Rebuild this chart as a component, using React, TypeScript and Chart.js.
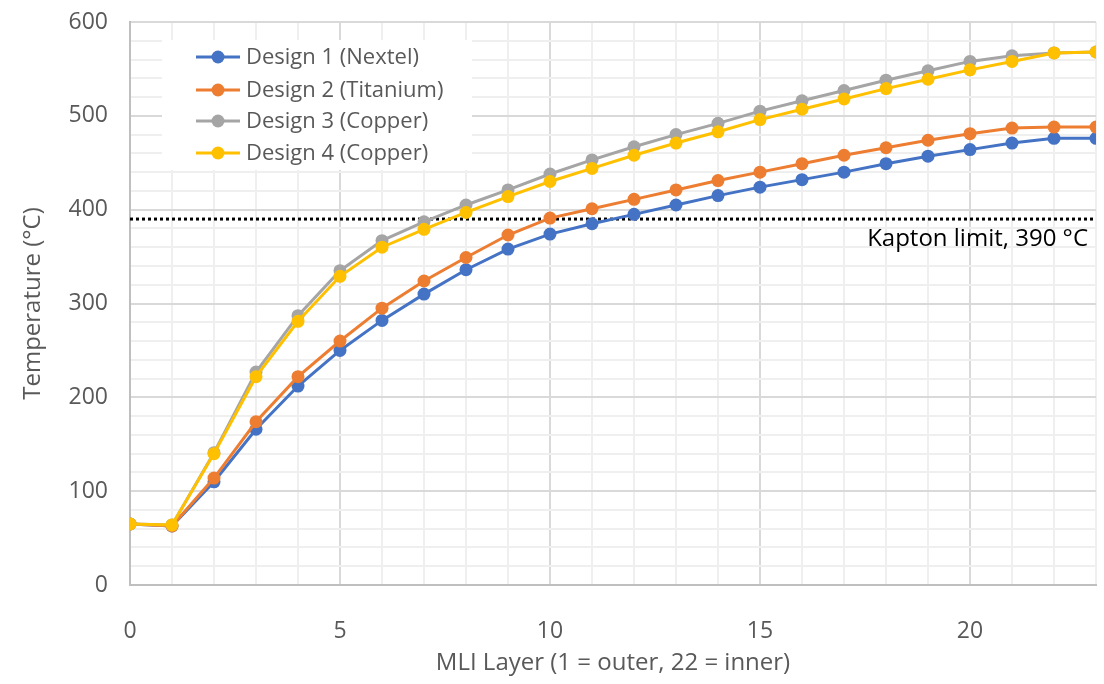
import { useEffect, useRef } from "react";
import { Chart, registerables } from "chart.js";
Chart.register(...registerables);

const layers = [0, 1, 2, 3, 4, 5, 6, 7, 8, 9, 10, 11, 12, 13, 14, 15, 16, 17, 18, 19, 20, 21, 22, 23];
const design1 = [65, 63, 110, 166, 212, 250, 282, 310, 336, 358, 374, 385, 395, 405, 415, 424, 432, 440, 449, 457, 464, 471, 476, 476];
const design2 = [65, 63, 114, 174, 222, 260, 295, 324, 349, 373, 391, 401, 411, 421, 431, 440, 449, 458, 466, 474, 481, 487, 488, 488];
const design3 = [65, 64, 141, 227, 287, 335, 367, 387, 405, 421, 438, 453, 467, 480, 492, 505, 516, 527, 538, 548, 558, 564, 567, 568];
const design4 = [65, 64, 140, 222, 281, 329, 360, 379, 397, 414, 430, 444, 458, 471, 483, 496, 507, 518, 529, 539, 549, 558, 567, 568];
const seriesNames = ["Design 1 (Nextel)", "Design 2 (Titanium)", "Design 3 (Copper)", "Design 4 (Copper)"];
const seriesColors = ["#4472C4", "#ED7D31", "#A5A5A5", "#FFC000"];
const kaptonLimit = 390;
const kaptonLabel = "Kapton limit, 390 °C";
const xTitle = "MLI Layer (1 = outer, 22 = inner)";
const yTitle = "Temperature (°C)";

const FONT = '"Open Sans", sans-serif';
const TEXT = "#595959";

const overlayPlugin = {
  id: "overlay",
  afterDatasetsDraw(chart: any) {
    const ctx = chart.ctx;
    const xs = chart.scales.x;
    const ys = chart.scales.y;
    const area = chart.chartArea;
    ctx.save();
    // Kapton label
    ctx.font = `24px ${FONT}`;
    ctx.fillStyle = "#000";
    ctx.textAlign = "right";
    ctx.textBaseline = "middle";
    ctx.fillText(kaptonLabel, xs.getPixelForValue(23) - 8, ys.getPixelForValue(kaptonLimit) + 20);
    // Legend
    const bx = area.left + 32;
    const by = area.top + 18;
    ctx.fillStyle = "#fff";
    ctx.fillRect(bx, by, 310, 130);
    const rows = [35, 68, 99, 131];
    ctx.font = `22px ${FONT}`;
    ctx.textAlign = "left";
    seriesNames.forEach((name, i) => {
      const cy = area.top + rows[i];
      ctx.strokeStyle = seriesColors[i];
      ctx.lineWidth = 3;
      ctx.beginPath();
      ctx.moveTo(area.left + 66, cy);
      ctx.lineTo(area.left + 110, cy);
      ctx.stroke();
      ctx.fillStyle = seriesColors[i];
      ctx.beginPath();
      ctx.arc(area.left + 88, cy, 6.5, 0, Math.PI * 2);
      ctx.fill();
      ctx.fillStyle = TEXT;
      ctx.fillText(name, area.left + 116, cy + 1);
    });
    ctx.restore();
  },
};

export default function App() {
  const ref = useRef<HTMLCanvasElement>(null);
  useEffect(() => {
    document.body.style.margin = "0";
    const series = [design1, design2, design3, design4];
    const datasets: any[] = series.map((vals, i) => ({
      label: seriesNames[i],
      data: layers.map((x, j) => ({ x, y: vals[j] })),
      borderColor: seriesColors[i],
      backgroundColor: seriesColors[i],
      borderWidth: 3,
      pointRadius: 6.5,
      pointBorderWidth: 0,
      pointHoverRadius: 6.5,
      order: 4 - i,
    }));
    datasets.push({
      label: "Kapton",
      data: [
        { x: layers[0], y: kaptonLimit },
        { x: layers[layers.length - 1], y: kaptonLimit },
      ],
      borderColor: "#000",
      borderWidth: 3,
      borderDash: [3, 3],
      pointRadius: 0,
      order: 5,
    });
    const chart = new Chart(ref.current!, {
      type: "line",
      data: { datasets },
      plugins: [overlayPlugin],
      options: {
        responsive: false,
        animation: false,
        layout: { padding: { top: 22, right: 8, left: 0, bottom: 0 } },
        plugins: { legend: { display: false }, tooltip: { enabled: false } },
        scales: {
          x: {
            type: "linear",
            min: 0,
            max: 23,
            afterFit: (s: any) => {
              s.height = 99;
              s.paddingLeft = 0;
              s.paddingRight = 0;
            },
            ticks: {
              stepSize: 1,
              autoSkip: false,
              maxRotation: 0,
              padding: 33,
              color: TEXT,
              font: { family: FONT, size: 23 },
              callback: (v: any) => (v % 5 === 0 ? String(v) : ""),
            },
            grid: {
              drawTicks: false,
              lineWidth: 2,
              color: (c: any) => (c.tick && c.tick.value % 5 === 0 ? "#d9d9d9" : "#efefef"),
            },
            border: { color: "#bfbfbf", width: 2 },
            title: {
              display: true,
              text: xTitle,
              color: TEXT,
              font: { family: FONT, size: 24 },
              padding: { top: 0, bottom: 6 },
            },
          },
          y: {
            min: 0,
            max: 600,
            afterFit: (s: any) => {
              s.width = 130;
              s.paddingTop = 0;
              s.paddingBottom = 0;
            },
            ticks: {
              stepSize: 20,
              autoSkip: false,
              padding: 22,
              color: TEXT,
              font: { family: FONT, size: 23 },
              callback: (v: any) => (v % 100 === 0 ? String(v) : ""),
            },
            grid: {
              drawTicks: false,
              lineWidth: 2,
              color: (c: any) => (c.tick && c.tick.value % 100 === 0 ? "#d9d9d9" : "#efefef"),
            },
            border: { color: "#bfbfbf", width: 2 },
            title: {
              display: true,
              text: yTitle,
              color: TEXT,
              font: { family: FONT, size: 24 },
              padding: { top: 19, bottom: 0 },
            },
          },
        },
      },
    });
    return () => chart.destroy();
  }, []);
  return <canvas ref={ref} width={1104} height={684} />;
}
